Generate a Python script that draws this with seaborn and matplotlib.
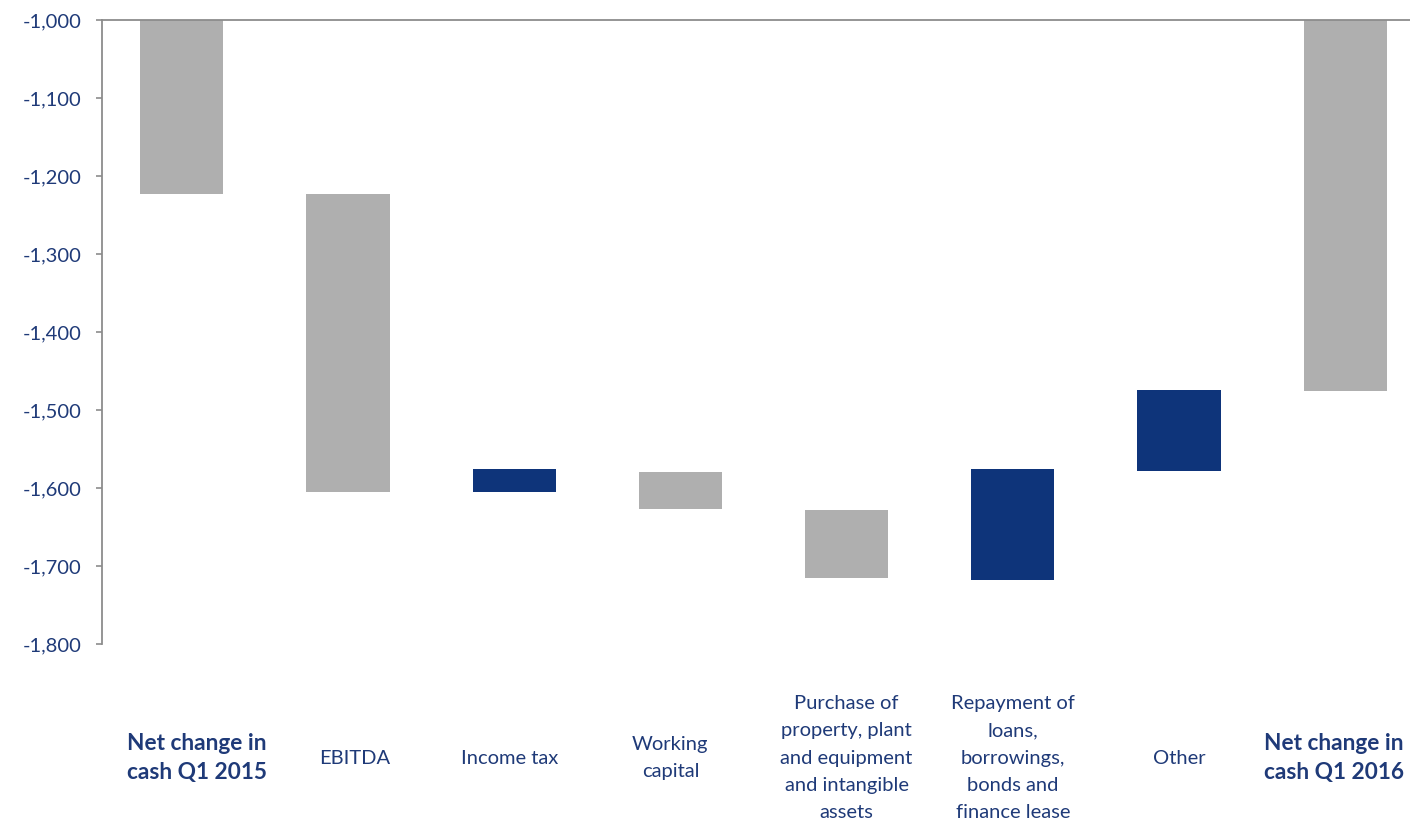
import numpy as np
import matplotlib
matplotlib.use('Agg')
import matplotlib.pyplot as plt
import seaborn as sns
from matplotlib.ticker import FuncFormatter

sns.set_style('white')
plt.rcParams['font.family'] = ['Lato', 'DejaVu Sans']

# data (waterfall: each bar spans from bar_top to bar_bottom)
categories = ['Net change in\ncash Q1 2015', 'EBITDA', 'Income tax', 'Working\ncapital',
              'Purchase of\nproperty, plant\nand equipment\nand intangible\nassets',
              'Repayment of\nloans,\nborrowings,\nbonds and\nfinance lease',
              'Other', 'Net change in\ncash Q1 2016']
bar_top = [0, -1223, -1575, -1579, -1628, -1575, -1474, 0]
bar_bottom = [-1223, -1605, -1605, -1627, -1715, -1718, -1578, -1476]
is_navy = [False, False, True, False, False, True, True, False]
bold_labels = [True, False, False, False, False, False, False, True]
y_ticks = [-1000, -1100, -1200, -1300, -1400, -1500, -1600, -1700, -1800]

GREY = '#AFAFAF'
NAVY = '#0E347A'
TEXT = '#1F3A78'
AXIS = '#8C8C8C'

fig = plt.figure(figsize=(14.1, 8.25), dpi=100)
ax = fig.add_axes([102 / 1410, 1 - 644 / 825, 1308 / 1410, (644 - 20) / 825])

heights = np.array(bar_bottom) - np.array(bar_top)
for navy, col in [(False, GREY), (True, NAVY)]:
    h = [v if n == navy else 0 for v, n in zip(heights, is_navy)]
    sns.barplot(x=categories, y=h, bottom=bar_top, color=col, width=0.5,
                errorbar=None, linewidth=0, saturation=1, ax=ax)

ax.set_ylim(-1800, -1000)
ax.set_xlim(-0.48, 7.39)
ax.set_yticks(y_ticks)
ax.yaxis.set_major_formatter(FuncFormatter(lambda v, p: f'{v:,.0f}'.replace('\u2212', '-')))

for s in ['right', 'bottom']:
    ax.spines[s].set_visible(False)
for s in ['left', 'top']:
    ax.spines[s].set_color(AXIS)
    ax.spines[s].set_linewidth(1.3)

ax.tick_params(axis='y', length=4, width=1.2, color=AXIS, direction='out', left=True,
               labelsize=14.5, labelcolor=TEXT, pad=11)
ax.set_xticks([])
ax.set_xlabel('')
ax.set_ylabel('')

# category labels below the plot, the two totals nudged like in the original
nudge = [0.09, 0.04, -0.03, -0.06, 0, 0, 0, -0.07]
trans = ax.get_xaxis_transform()
for i, (lab, b) in enumerate(zip(categories, bold_labels)):
    ax.text(i + nudge[i], -0.1827, lab, transform=trans, ha='center', va='center',
            color=TEXT, fontsize=16.3 if b else 14.5, fontweight='bold' if b else 'normal',
            linespacing=1.5 if b else 1.72, clip_on=False)

fig.savefig('out.png', dpi=100)
